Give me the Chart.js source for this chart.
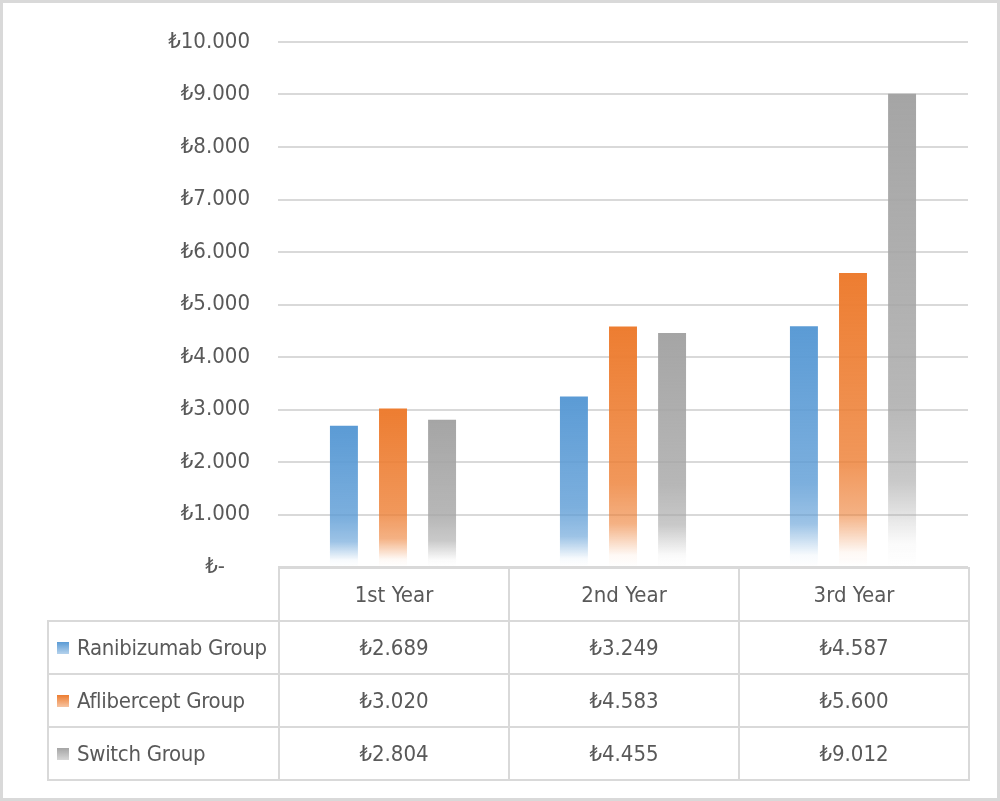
<!DOCTYPE html>
<html>
<head>
<meta charset="utf-8">
<script src="https://cdn.jsdelivr.net/npm/chart.js@4/dist/chart.umd.min.js"></script>
<style>
  html, body { margin: 0; padding: 0; background: #fff; }
  body { width: 1000px; height: 801px; position: relative; overflow: hidden; }
  #frame { position: absolute; left: 0; top: 0; width: 994px; height: 795px;
           border: 3px solid #d9d9d9; }
  #wrap { position: absolute; left: 0; top: 0; width: 1000px; height: 801px; }
  #tbl { position: absolute; left: 47px; top: 567px; width: 921px; border-collapse: collapse;
         font-family: "Liberation Sans Narrow", "DejaVu Sans Condensed", "Liberation Sans", sans-serif;
         font-size: 22px; color: #595959; table-layout: fixed; }
  #tbl td { border: 2px solid #d9d9d9; height: 51px; padding: 0; text-align: center;
            white-space: nowrap; overflow: hidden; }
  #tbl td.blank { border: none; }
  #tbl td.name { text-align: left; padding-left: 8px; letter-spacing: -0.3px; }
  .key { display: inline-block; width: 12px; height: 12px; margin-right: 8px; vertical-align: 1px; }
</style>
</head>
<body>
<div id="frame"></div>
<div id="wrap"><canvas id="chart" width="1000" height="801"></canvas></div>
<table id="tbl"></table>
<script>
// ─── Data ─────────────────────────────────────────────────────────────────────
const categories   = ["1st Year", "2nd Year", "3rd Year"];
const seriesNames  = ["Ranibizumab Group", "Aflibercept Group", "Switch Group"];
const ranibizumab  = [2689, 3249, 4587];
const aflibercept  = [3020, 4583, 5600];
const switchGroup  = [2804, 4455, 9012];
const yTickLabels  = ["₺-", "₺1.000", "₺2.000", "₺3.000", "₺4.000", "₺5.000",
                      "₺6.000", "₺7.000", "₺8.000", "₺9.000", "₺10.000"];

const seriesRGB = [[91, 155, 213], [237, 125, 49], [165, 165, 165]];
const FONT = "'Liberation Sans Narrow', 'DejaVu Sans Condensed', 'Liberation Sans', sans-serif";

// ─── Helpers ──────────────────────────────────────────────────────────────────
function fmtLira(v) {
  return "₺" + v.toLocaleString("de-DE");
}

function rgba(c, a) { return `rgba(${c[0]},${c[1]},${c[2]},${a})`; }

// per-bar vertical gradient: solid at top, fading to white near the base
function barFill(idx) {
  return (ctx) => {
    const chart = ctx.chart;
    const c = seriesRGB[idx];
    if (!chart.chartArea || !chart.scales.y || ctx.raw == null) return rgba(c, 1);
    const yTop = chart.scales.y.getPixelForValue(ctx.raw);
    const yBot = chart.scales.y.getPixelForValue(0);
    const g = chart.ctx.createLinearGradient(0, yTop, 0, yBot);
    g.addColorStop(0, rgba(c, 1));
    g.addColorStop(0.65, rgba(c, 0.8));
    g.addColorStop(0.82, rgba(c, 0.6));
    g.addColorStop(0.95, rgba(c, 0.05));
    g.addColorStop(1, rgba(c, 0));
    return g;
  };
}

// ─── Chart ────────────────────────────────────────────────────────────────────
const allSeries = [ranibizumab, aflibercept, switchGroup];

new Chart(document.getElementById("chart"), {
  type: "bar",
  data: {
    labels: categories,
    datasets: allSeries.map((d, i) => ({
      label: seriesNames[i],
      data: d,
      backgroundColor: barFill(i),
      borderWidth: 0,
      barPercentage: 0.57,
      categoryPercentage: 0.64
    }))
  },
  options: {
    responsive: false,
    animation: false,
    devicePixelRatio: 1,
    layout: { padding: { left: 0, right: 32, top: 42, bottom: 234 } },
    plugins: { legend: { display: false }, tooltip: { enabled: false } },
    scales: {
      x: { display: false },
      y: {
        min: 0, max: 10000,
        afterFit: (s) => { s.width = 278; },
        border: { display: false },
        grid: { color: "#d9d9d9", lineWidth: 2, drawTicks: false },
        ticks: {
          stepSize: 1000,
          padding: 28,
          color: "#595959",
          font: { family: FONT, size: 22 },
          callback: (v, i) => i === 0 ? yTickLabels[0] + "\u00a0\u00a0\u00a0\u00a0" : yTickLabels[i]
        }
      }
    }
  }
});

// ─── Data table under the plot ───────────────────────────────────────────────
const tbl = document.getElementById("tbl");
let html = '<colgroup><col style="width:231px">' + categories.map(() => '<col style="width:230px">').join("") + '</colgroup>';
html += '<tr><td class="blank"></td>' + categories.map(c => `<td>${c}</td>`).join("") + '</tr>';
allSeries.forEach((d, i) => {
  const c = seriesRGB[i];
  const key = `<span class="key" style="background:linear-gradient(${rgba(c,1)},${rgba(c,0.45)})"></span>`;
  html += `<tr><td class="name">${key}${seriesNames[i]}</td>` + d.map(v => `<td>${fmtLira(v)}</td>`).join("") + '</tr>';
});
tbl.innerHTML = html;
</script>
</body>
</html>
